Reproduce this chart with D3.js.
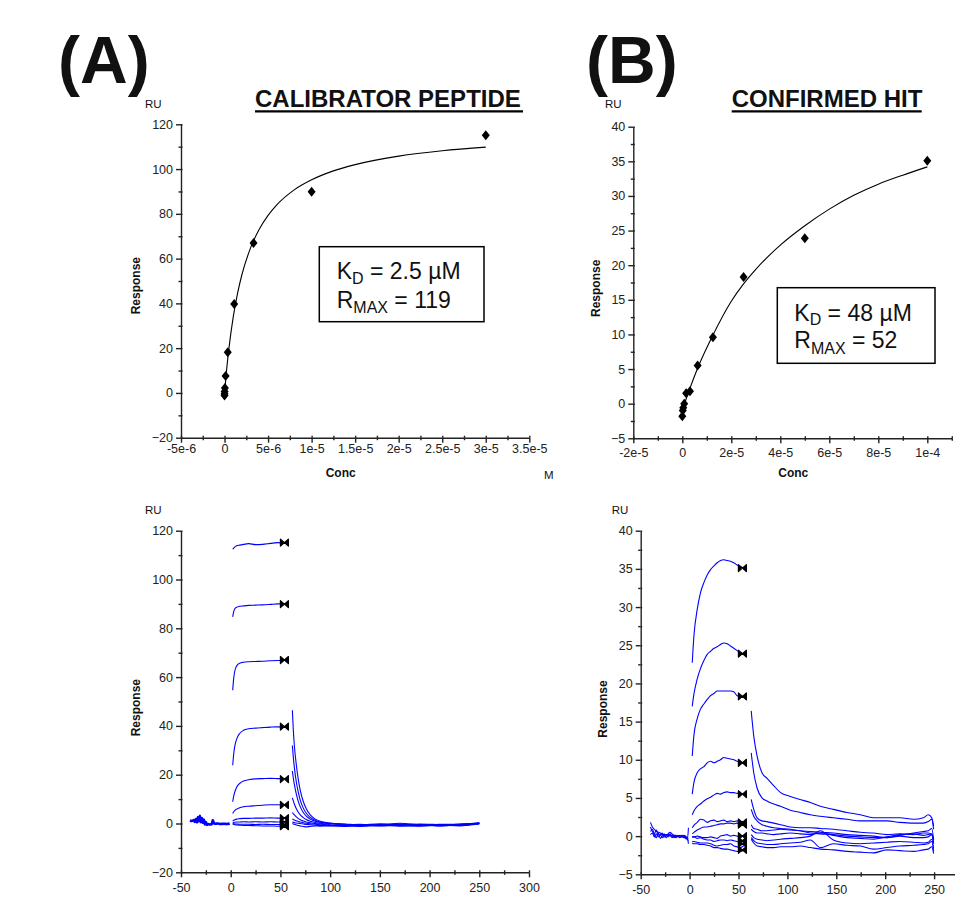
<!DOCTYPE html>
<html>
<head>
<meta charset="utf-8">
<style>
body { margin: 0; background: #fff; }
svg { display: block; font-family: "Liberation Sans", Arial, sans-serif; }
.axis .domain, .axis line { stroke: #222; stroke-width: 1.4; }
.axis text { fill: #222; }
</style>
</head>
<body>
<svg width="955" height="901"></svg>
<script src="https://cdn.jsdelivr.net/npm/d3@7"></script>
<script>

// ---- top panels: response vs concentration ----
var concA = [3e-5, 1e-5, 3.33e-6, 1.11e-6, 3.7e-7, 1.23e-7, 4.1e-8, 1.4e-8, 4.6e-9, 0];
var respA = [115.1, 89.9, 67.0, 39.7, 18.2, 7.6, 2.2, 0.6, -0.4, -1.1];
var fitConcA = [0, 2.5e-7, 5e-7, 1e-6, 1.5e-6, 2e-6, 3e-6, 4e-6, 5e-6, 6e-6, 8e-6, 1e-5, 1.25e-5, 1.5e-5, 2e-5, 2.5e-5, 3e-5];
var fitRespA = [0, 10.8, 19.8, 34.0, 44.6, 52.9, 64.9, 73.2, 79.3, 84.0, 90.7, 95.2, 99.2, 102.0, 105.8, 108.2, 109.8];

var concB = [1e-4, 5e-5, 2.5e-5, 1.25e-5, 6.25e-6, 3.13e-6, 1.56e-6, 7.8e-7, 3.9e-7, 2e-7, 0];
var respB = [35.1, 23.9, 18.3, 9.6, 5.5, 1.8, 1.5, 0.0, -0.6, -1.0, -1.8];
var fitConcB = [0, 1.5e-6, 3e-6, 6e-6, 1.25e-5, 2e-5, 2.5e-5, 3e-5, 4e-5, 5e-5, 6e-5, 7e-5, 8e-5, 9e-5, 1e-4];
var fitRespB = [-1.0, 0.6, 2.1, 4.9, 9.9, 14.8, 17.3, 19.4, 22.9, 25.7, 28.1, 30.1, 31.7, 33.0, 34.2];

// ---- bottom panels: sensorgrams (time in s, RU) ----
var reportTime = 54;

var baseTimeA = [-41, -39, -37, -36, -35, -34, -33, -32, -31, -30, -29, -28, -27, -26, -25, -24, -23, -21, -19, -18, -17, -16, -13, -10, -7, -4, -1];
var baseA = [1.2, 1.0, 1.4, 0.6, 1.8, 0.4, 2.6, 0.8, 3.2, 0.5, 2.2, 0.3, 1.6, -0.4, 0.6, -0.6, -0.2, -0.4, -0.2, 1.4, 0.2, -0.1, 0.0, -0.2, -0.1, -0.2, 0.0];

var assocTimeA = [2, 3, 4, 6, 9, 13, 18, 25, 32, 40, 47, 54, 57];
var assocA = [
  [112.4, 112.9, 113.3, 113.8, 114.1, 114.4, 114.7, 114.3, 114.4, 114.8, 115.1, 114.9, 114.7],
  [84.7, 86.8, 87.9, 88.6, 89.0, 89.2, 89.4, 89.5, 89.6, 89.8, 90.0, 90.0, 90.0],
  [54.6, 59.5, 62.3, 64.6, 65.7, 66.1, 66.3, 66.4, 66.5, 66.7, 66.8, 66.8, 66.8],
  [23.9, 28.5, 31.5, 34.6, 36.9, 38.2, 38.8, 39.1, 39.3, 39.5, 39.6, 39.5, 39.4],
  [8.9, 11.2, 12.8, 14.9, 16.4, 17.4, 17.9, 18.3, 18.4, 18.5, 18.4, 18.3, 18.2],
  [4.1, 4.8, 5.3, 5.9, 6.5, 6.9, 7.1, 7.3, 7.5, 7.7, 7.7, 7.5, 7.4],
  [1.0, 1.3, 1.5, 1.8, 2.0, 2.1, 2.1, 2.2, 2.2, 2.3, 2.2, 2.2, 2.2],
  [0.2, 0.4, 0.5, 0.6, 0.6, 0.7, 0.6, 0.7, 0.6, 0.7, 0.6, 0.6, 0.6],
  [0.0, -0.1, -0.2, -0.2, -0.3, -0.3, -0.3, -0.4, -0.3, -0.4, -0.4, -0.4, -0.4],
  [-0.3, -0.4, -0.5, -0.6, -0.7, -0.8, -0.8, -0.9, -1.0, -1.0, -1.1, -1.1, -1.1]
];

var dissTimeA = [62, 63, 64, 66, 68, 70, 73, 76, 80, 85, 90, 100, 115, 130, 150, 170, 190, 210, 230, 250];
var dissA = [
  [46.4, 38, 32, 24, 18, 13.5, 9, 6, 3.5, 1.8, 0.9, 0.2, -0.2, -0.6, -0.1, -0.3, -0.8, -0.3, -0.6, 0.2],
  [32, 27, 23, 17, 12.8, 9.5, 6.3, 4.2, 2.5, 1.3, 0.6, 0.1, -0.6, -0.3, -0.7, 0.1, -0.5, -0.9, -0.2, 0.1],
  [21.5, 18.5, 16, 12, 9, 6.8, 4.5, 3.0, 1.8, 0.9, 0.4, 0.0, -0.3, -0.9, -0.4, -0.6, -0.2, -0.5, -0.8, 0.0],
  [10.5, 9.2, 8, 6, 4.6, 3.5, 2.4, 1.6, 0.9, 0.4, 0.1, -0.5, -0.8, -0.4, -0.9, -0.3, -0.7, -0.4, -0.3, 0.3],
  [4.5, 4.0, 3.5, 2.7, 2.0, 1.5, 1.0, 0.6, 0.3, 0.0, -0.2, -0.7, -0.5, -1.0, -0.6, -0.8, -0.4, -0.9, -0.6, -0.1],
  [1.8, 1.6, 1.4, 1.1, 0.8, 0.6, 0.3, 0.1, -0.1, -0.3, -0.5, -0.9, -1.1, -0.7, -1.0, -0.5, -0.9, -0.6, -0.8, -0.2],
  [0.6, 0.5, 0.4, 0.2, 0.1, 0.0, -0.2, -0.4, -0.5, -0.7, -0.8, -1.0, -0.6, -1.2, -0.8, -1.1, -0.6, -1.0, -0.5, 0.0],
  [0.0, -0.2, -0.3, -0.6, -0.8, -1.0, -1.2, -1.4, -1.2, -1.0, -1.1, -0.8, -1.2, -0.9, -0.5, -0.9, -1.1, -0.7, -1.0, 0.2]
];

var baseTimeB = [-40, -38, -36, -34, -32, -30, -28, -26, -24, -22, -20, -18, -16, -14, -12, -10, -8, -6, -4, -2, -1.2];
var baseB = [
  [1.8, 1.2, 0.9, 0.6, 0.5, 0.4, 0.2, 0.2, 0.1, 0.3, 0.5, 0.3, 0.1, 0.1, 0.0, 0.0, 0.1, 0.0, -0.1, -0.2, 1.1],
  [1.2, 0.6, 0.3, 0.8, 0.2, 0.1, 0.4, -0.1, 0.0, 0.2, 0.0, 0.1, -0.2, 0.0, -0.1, 0.1, 0.0, -0.1, -0.3, -0.4, -1.0],
  [0.6, 0.9, 0.2, -0.2, 0.4, -0.3, 0.0, 0.3, -0.2, 0.1, 0.2, -0.2, 0.0, -0.2, 0.0, -0.2, -0.1, -0.2, -0.2, -0.5, -0.6],
  [0.2, 0.4, -0.1, 0.3, -0.1, 0.2, -0.2, 0.0, 0.2, -0.1, 0.3, 0.0, 0.1, -0.1, 0.1, -0.1, 0.0, 0.1, 0.0, -0.3, -0.3]
];

var assocTimeB = [2.7, 4.4, 7.8, 11, 14.6, 18, 21.4, 25, 28.2, 31.6, 35, 38.4, 41.8, 45.2, 48.6, 52, 55, 57.8];
var assocB = [
  [22.7, 26.2, 29.7, 31.8, 33.2, 34.2, 34.9, 35.4, 35.8, 36.1, 36.2, 36.1, 36.0, 35.8, 35.5, 35.3, 35.1, 34.7],
  [17.0, 18.6, 20.6, 21.9, 23.0, 23.8, 24.2, 24.6, 24.8, 25.1, 25.3, 25.2, 24.9, 24.6, 24.3, 24.0, 23.9, 23.7],
  [10.5, 13.2, 15.4, 16.6, 17.3, 17.9, 18.4, 18.7, 19.0, 19.0, 19.0, 19.0, 19.0, 18.9, 18.4, 18.3, 18.2, 18.1],
  [5.5, 7.0, 8.3, 8.8, 9.1, 9.6, 9.8, 9.6, 9.8, 10.0, 10.3, 10.2, 10.1, 10.0, 9.8, 9.7, 9.6, 9.5],
  [2.8, 3.3, 3.9, 4.2, 4.6, 4.9, 5.1, 5.4, 5.6, 5.5, 5.7, 5.8, 5.7, 5.7, 5.6, 5.6, 5.5, 5.5],
  [1.1, 1.4, 1.8, 2.2, 2.1, 1.8, 2.0, 2.1, 1.9, 2.0, 2.1, 1.9, 2.0, 1.9, 2.0, 1.9, 1.9, 1.8],
  [0.3, 0.5, 0.8, 1.0, 1.2, 1.2, 1.3, 1.4, 1.5, 1.6, 1.6, 1.7, 1.7, 1.6, 1.7, 1.6, 1.5, 1.5],
  [0.0, -0.1, 0.0, -0.1, -0.2, -0.2, -0.1, -0.2, -0.3, 0.0, 0.1, 0.2, 0.0, 0.1, 0.0, -0.1, 0.0, -0.1],
  [-0.2, -0.1, -0.3, -0.2, -0.4, -0.5, -0.5, -0.7, -0.6, -0.5, -0.5, -0.6, -0.5, -0.6, -0.7, -0.8, -0.7, -0.8],
  [-0.7, -0.7, -0.8, -0.9, -0.9, -0.9, -1.0, -1.2, -1.3, -1.2, -1.1, -1.1, -1.0, -1.3, -1.4, -1.5, -1.3, -1.2],
  [-0.9, -1.0, -1.0, -1.1, -1.1, -1.2, -1.3, -1.5, -1.5, -1.6, -1.7, -1.7, -1.8, -1.9, -2.0, -2.0, -1.9, -1.8]
];

var dissTimeB = [63, 65.6, 69, 74, 79, 86, 93, 103, 113, 123.5, 133.7, 147, 161, 174.5, 188, 201.7, 215, 229, 239, 244, 247.6, 249.5];
var dissB = [
  [16.4, 13.1, 10.5, 8.3, 7.6, 6.6, 5.7, 5.2, 4.8, 4.4, 3.9, 3.5, 3.1, 2.8, 2.4, 2.4, 2.4, 2.2, 2.4, 2.8, 2.4, 1.3],
  [10.9, 8.3, 6.3, 5.0, 4.6, 4.2, 3.9, 3.4, 3.1, 2.8, 2.6, 2.4, 2.2, 2.0, 2.0, 2.0, 1.8, 1.7, 1.7, 1.9, 2.2, 0.9],
  [4.8, 3.5, 2.4, 2.0, 1.9, 1.7, 1.5, 1.2, 1.1, 1.1, 1.0, 0.9, 0.7, 0.5, 0.4, 0.2, 0.3, 0.2, 0.4, 0.4, 0.2, -0.3],
  [3.5, 2.6, 2.0, 1.5, 1.3, 1.1, 1.0, 0.9, 0.7, 0.4, 0.3, 0.2, 0.0, -0.1, -0.2, -0.2, 0.0, -0.2, -0.2, -0.1, 0.2, -0.9],
  [1.5, 1.0, 0.9, 0.7, 0.7, 0.8, 0.9, 0.8, 0.7, 0.6, 0.5, 0.4, 0.2, 0.1, 0.0, -0.2, 0.1, 0.4, 0.6, 0.7, 1.0, -0.5],
  [0.9, 0.6, 0.4, 0.4, 0.3, 0.2, 0.3, 0.4, 0.3, 0.2, 0.4, 0.1, -0.2, -0.3, -0.4, -0.1, 0.2, 0.3, 0.1, 0.2, 0.3, -1.0],
  [0.2, -0.2, -0.4, -0.5, -0.6, -0.5, -0.4, -0.3, -0.2, 0.0, 0.7, -0.5, -0.9, -1.0, -0.9, -0.8, -0.7, -0.8, -0.9, -0.8, -0.4, -1.6],
  [-0.2, -0.6, -0.9, -1.0, -1.1, -1.1, -1.0, -0.9, -0.8, -0.5, -1.5, -1.0, -1.2, -1.3, -1.7, -1.5, -1.3, -1.2, -1.1, -1.0, -0.7, -2.0],
  [-0.4, -0.9, -1.3, -1.4, -1.5, -1.5, -1.4, -1.4, -1.3, -1.5, -1.7, -1.8, -2.0, -2.1, -2.2, -1.8, -1.9, -2.0, -1.8, -1.7, -1.4, -2.3]
];

// ---- tick values and labels ----
var concTicksA = [-5e-6, 0, 5e-6, 1e-5, 1.5e-5, 2e-5, 2.5e-5, 3e-5, 3.5e-5];
var concLabelsA = ["-5e-6", "0", "5e-6", "1e-5", "1.5e-5", "2e-5", "2.5e-5", "3e-5", "3.5e-5"];
var concMinorA = [-2.5e-6, 2.5e-6, 7.5e-6, 1.25e-5, 1.75e-5, 2.25e-5, 2.75e-5, 3.25e-5];
var concTicksB = [-2e-5, 0, 2e-5, 4e-5, 6e-5, 8e-5, 1e-4];
var concLabelsB = ["-2e-5", "0", "2e-5", "4e-5", "6e-5", "8e-5", "1e-4"];
var concMinorB = [-1e-5, 1e-5, 3e-5, 5e-5, 7e-5, 9e-5, 1.1e-4];
var respTicksA = [-20, 0, 20, 40, 60, 80, 100, 120];
var respMinorA = [-10, 10, 30, 50, 70, 90, 110];
var respTicksB = [-5, 0, 5, 10, 15, 20, 25, 30, 35, 40];
var respMinorB = [-2.5, 2.5, 7.5, 12.5, 17.5, 22.5, 27.5, 32.5, 37.5];
var timeTicksA = [-50, 0, 50, 100, 150, 200, 250, 300];
var timeTicksB = [-50, 0, 50, 100, 150, 200, 250];
var timeMinor = [-25, 25, 75, 125, 175, 225, 275];

var svg = d3.select("svg");
var blue = "#0000ff";

function drawAxes(x, y, o) {
  var yb = y.range()[0], xl = x.range()[0];

  var gx = svg.append("g").attr("class", "axis").attr("transform", "translate(0," + yb + ")");
  gx.call(d3.axisBottom(x).tickValues(o.xTicks)
      .tickFormat(function(d, i) { return o.xLabels[i]; })
      .tickSizeInner(5).tickSizeOuter(0).tickPadding(o.xPad));
  gx.attr("font-size", 12.5).attr("font-family", null);
  svg.append("g").attr("class", "axis").attr("transform", "translate(0," + yb + ")")
      .call(d3.axisBottom(x).tickValues(o.xMinor).tickFormat("").tickSize(2.5))
      .call(function(g) { g.select(".domain").remove(); });
  svg.append("g").attr("class", "axis").attr("transform", "translate(0," + yb + ")")
      .call(d3.axisTop(x).tickValues(o.xTicks.concat(o.xMinor)).tickFormat("").tickSize(2))
      .call(function(g) { g.select(".domain").remove(); });

  var gy = svg.append("g").attr("class", "axis").attr("transform", "translate(" + xl + ",0)");
  gy.call(d3.axisLeft(y).tickValues(o.yTicks).tickSizeInner(5).tickSizeOuter(0).tickPadding(3));
  gy.attr("font-size", 12.5).attr("font-family", null);
  svg.append("g").attr("class", "axis").attr("transform", "translate(" + xl + ",0)")
      .call(d3.axisLeft(y).tickValues(o.yMinor).tickFormat("").tickSize(2.5))
      .call(function(g) { g.select(".domain").remove(); });
  svg.append("g").attr("class", "axis").attr("transform", "translate(" + xl + ",0)")
      .call(d3.axisRight(y).tickValues(o.yTicks.concat(o.yMinor)).tickFormat("").tickSize(1.5))
      .call(function(g) { g.select(".domain").remove(); });
}

function label(x, y, txt, size, weight, anchor) {
  return svg.append("text").attr("x", x).attr("y", y)
      .attr("font-size", size).attr("font-weight", weight || "normal")
      .attr("text-anchor", anchor || "start").attr("fill", "#111").text(txt);
}

function yLabel(x, y, txt) {
  svg.append("text").attr("transform", "translate(" + x + "," + y + ") rotate(-90)")
      .attr("font-size", 12).attr("font-weight", "bold").attr("text-anchor", "middle")
      .attr("fill", "#111").text(txt);
}

var diamond = { draw: function(ctx) {
  ctx.moveTo(0, -5); ctx.lineTo(4, 0); ctx.lineTo(0, 5); ctx.lineTo(-4, 0); ctx.closePath();
}};
// report point marker: filled bow tie
var bowtie = { draw: function(ctx) {
  ctx.moveTo(-4, -3.5); ctx.lineTo(4, 3.5); ctx.lineTo(4, -3.5); ctx.lineTo(-4, 3.5); ctx.closePath();
}};

function affinityPanel(x, y, conc, resp, fitConc, fitResp) {
  var line = d3.line().x(function(d) { return x(d[0]); }).y(function(d) { return y(d[1]); })
      .curve(d3.curveMonotoneX);
  svg.append("path").datum(d3.zip(fitConc, fitResp))
      .attr("d", line).attr("fill", "none").attr("stroke", "#000").attr("stroke-width", 1.1);
  svg.append("g").selectAll("path").data(d3.zip(conc, resp)).enter().append("path")
      .attr("transform", function(d) { return "translate(" + x(d[0]) + "," + y(d[1]) + ")"; })
      .attr("d", d3.symbol().type(diamond)).attr("fill", "#000");
}

function sensorPanel(x, y, baseTime, base, assocTime, assoc, dissTime, diss, report, baseWidth) {
  var line = d3.line().x(function(d) { return x(d[0]); }).y(function(d) { return y(d[1]); })
      .curve(d3.curveMonotoneX);
  var g = svg.append("g").attr("fill", "none").attr("stroke", blue).attr("stroke-width", 1.1);
  base.forEach(function(b) {
    g.append("path").datum(d3.zip(baseTime, b)).attr("d", line).attr("stroke-width", baseWidth);
  });
  assoc.forEach(function(a) { g.append("path").datum(d3.zip(assocTime, a)).attr("d", line); });
  diss.forEach(function(a) { g.append("path").datum(d3.zip(dissTime, a)).attr("d", line); });
  svg.append("g").selectAll("path").data(report).enter().append("path")
      .attr("transform", function(d) { return "translate(" + x(reportTime) + "," + y(d) + ")"; })
      .attr("d", d3.symbol().type(bowtie)).attr("fill", "#000")
      .attr("stroke", "#000").attr("stroke-width", 1.2).attr("stroke-linejoin", "round");
}

// ---- scales ----
var xTopA = d3.scaleLinear().domain([-5e-6, 3.5e-5]).range([181, 529.3]);
var yTopA = d3.scaleLinear().domain([-20, 120]).range([437.7, 124.3]);
var xTopB = d3.scaleLinear().domain([-2e-5, 1.1e-4]).range([633.3, 951.8]);
var yTopB = d3.scaleLinear().domain([-5, 40]).range([438.3, 126.7]);
var xBotA = d3.scaleLinear().domain([-50, 300]).range([181, 529]);
var yBotA = d3.scaleLinear().domain([-20, 120]).range([872.3, 530.7]);
var xBotB = d3.scaleLinear().domain([-50, 300]).range([640.7, 983]);
var yBotB = d3.scaleLinear().domain([-5, 40]).range([874.3, 530.7]);

drawAxes(xTopA, yTopA, {xTicks: concTicksA, xLabels: concLabelsA, xMinor: concMinorA, yTicks: respTicksA, yMinor: respMinorA, xPad: 1.5});
drawAxes(xTopB, yTopB, {xTicks: concTicksB, xLabels: concLabelsB, xMinor: concMinorB, yTicks: respTicksB, yMinor: respMinorB, xPad: 5});
drawAxes(xBotA, yBotA, {xTicks: timeTicksA, xLabels: timeTicksA.map(String), xMinor: timeMinor, yTicks: respTicksA, yMinor: respMinorA, xPad: 6});
drawAxes(xBotB, yBotB, {xTicks: timeTicksB, xLabels: timeTicksB.map(String), xMinor: timeMinor, yTicks: respTicksB, yMinor: respMinorB, xPad: 6});

affinityPanel(xTopA, yTopA, concA, respA, fitConcA, fitRespA);
affinityPanel(xTopB, yTopB, concB, respB, fitConcB, fitRespB);
sensorPanel(xBotA, yBotA, baseTimeA, [baseA], assocTimeA, assocA, dissTimeA, dissA, respA, 2.6);
sensorPanel(xBotB, yBotB, baseTimeB, baseB, assocTimeB, assocB, dissTimeB, dissB, respB, 1.1);

// ---- panel letters, titles, labels ----
label(58, 83, "(A)", 66, "bold");
label(586, 83, "(B)", 66, "bold");

label(255, 107, "CALIBRATOR PEPTIDE", 24, "bold");
label(731.7, 107, "CONFIRMED HIT", 24, "bold");
svg.append("line").attr("x1", 255).attr("x2", 523).attr("y1", 111.3).attr("y2", 111.3)
    .attr("stroke", "#000").attr("stroke-width", 2.2);
svg.append("line").attr("x1", 731.7).attr("x2", 921.7).attr("y1", 111.3).attr("y2", 111.3)
    .attr("stroke", "#000").attr("stroke-width", 2.2);

label(145, 108, "RU", 11.5);
label(605, 108, "RU", 11.5);
label(145, 514, "RU", 11.5);
label(611.7, 514, "RU", 11.5);

yLabel(140.3, 285.7, "Response");
yLabel(600.3, 288.3, "Response");
yLabel(140.3, 707.7, "Response");
yLabel(607, 709, "Response");

label(340.7, 477, "Conc", 12, "bold", "middle");
label(793.3, 477, "Conc", 12, "bold", "middle");
label(544, 479, "M", 11.5);

// fit result boxes
function resultBox(bx, by, bw, bh, tx, ty1, ty2, kd, rmax) {
  svg.append("rect").attr("x", bx).attr("y", by).attr("width", bw).attr("height", bh)
      .attr("fill", "#fff").attr("stroke", "#000").attr("stroke-width", 1.5);
  var t1 = label(tx, ty1, "K", 23);
  t1.append("tspan").attr("font-size", 16).attr("dy", 4.5).text("D");
  t1.append("tspan").attr("dy", -4.5).text(" = " + kd);
  var t2 = label(tx, ty2, "R", 23);
  t2.append("tspan").attr("font-size", 16).attr("dy", 5.5).text("MAX");
  t2.append("tspan").attr("dy", -5.5).text(" = " + rmax);
}
resultBox(319.3, 246.7, 164.7, 75, 336.7, 279.3, 307.7, "2.5 µM", "119");
resultBox(777.3, 287.7, 157.7, 75.6, 794.3, 320.7, 348.3, "48 µM", "52");

</script>
</body>
</html>
